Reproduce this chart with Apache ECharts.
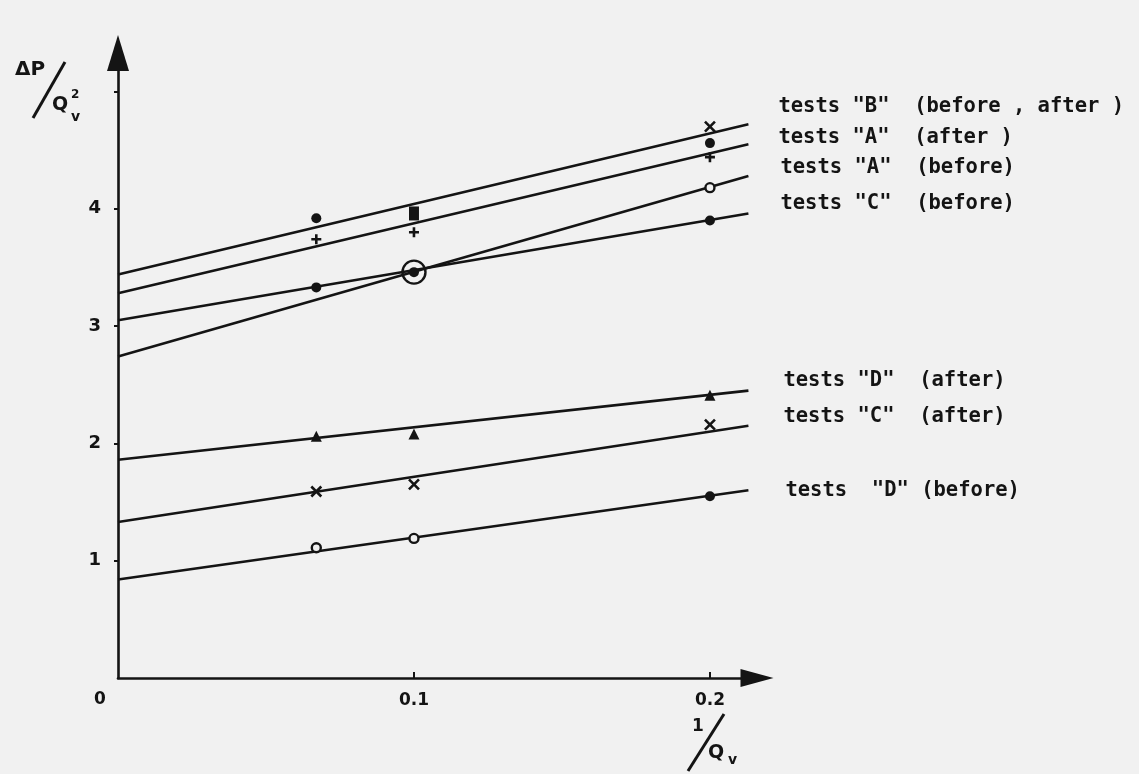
<!DOCTYPE html>
<html>
<head>
<meta charset="utf-8">
<script src="https://cdn.jsdelivr.net/npm/echarts@6/dist/echarts.min.js"></script>
<style>
html,body{margin:0;padding:0;background:#f1f1f1;}
#chart{width:1139px;height:774px;}
</style>
</head>
<body>
<div id="chart"></div>
<script>
// ---- data ----
const lineX = [0, 0.213];
const lineBbeforeAfter = [3.44, 4.72];
const lineAafter = [3.28, 4.55];
const lineCbefore = [3.05, 3.96];
const lineAbefore = [2.74, 4.28];
const lineDafter = [1.86, 2.45];
const lineCafter = [1.33, 2.15];
const lineDbefore = [0.84, 1.60];

const lineNames = [
  'tests "B"  (before , after )',
  'tests "A"  (after )',
  'tests "C"  (before)',
  'tests "A"  (before)',
  'tests "D"  (after)',
  'tests "C"  (after)',
  'tests  "D" (before)'
];

const filledDots = [[0.067, 3.92], [0.2, 4.56], [0.2, 3.90], [0.2, 1.55], [0.067, 3.33], [0.1, 3.46]];
const plusMarks = [[0.067, 3.74], [0.1, 3.80], [0.2, 4.44]];
const crossMarks = [[0.2, 4.70], [0.067, 1.59], [0.1, 1.65], [0.2, 2.16]];
const squareMarks = [[0.1, 3.96]];
const triangleMarks = [[0.067, 2.06], [0.1, 2.08], [0.2, 2.41]];
const openCircles = [[0.067, 1.11], [0.1, 1.19], [0.2, 4.18]];
const ringMarks = [[0.1, 3.46]];

const xTickValues = [0.1, 0.2];
const xTickLabels = ['0.1', '0.2'];
const yTickValues = [1, 2, 3, 4, 5];
const yLabelValues = [1, 2, 3, 4];

// ---- chart ----
const INK = '#141414';
const chart = echarts.init(document.getElementById('chart'), null, {renderer: 'canvas'});

function pair(arr) { return lineX.map((x, i) => [x, arr[i]]); }
const lineSets = [lineBbeforeAfter, lineAafter, lineCbefore, lineAbefore, lineDafter, lineCafter, lineDbefore];
const labelOffsets = [[30, -18], [30, -7], [32, -10], [32, -8], [35, -10], [35, -9], [37, 0]];

const labelFont = {
  fontFamily: 'DejaVu Sans Mono', fontWeight: 'bold', fontSize: 20.5, color: INK
};

const lineSeries = lineSets.map((arr, i) => ({
  type: 'line',
  name: lineNames[i],
  data: pair(arr),
  symbol: 'none',
  lineStyle: {color: INK, width: 2.6},
  silent: true,
  z: 2,
  endLabel: Object.assign({
    show: true,
    formatter: lineNames[i],
    distance: 0,
    offset: labelOffsets[i],
    align: 'left'
  }, labelFont)
}));

const scatterBase = {type: 'scatter', silent: true, z: 3};

const option = {
  backgroundColor: '#f1f1f1',
  animation: false,
  grid: {left: 118, top: 53, right: 382, bottom: 96, containLabel: false},
  xAxis: {
    type: 'value',
    min: 0,
    max: 0.2159,
    splitLine: {show: false},
    axisLine: {
      show: true, onZero: true,
      lineStyle: {color: INK, width: 2.6},
      symbol: ['none', 'triangle'],
      symbolSize: [18, 33]
    },
    axisTick: {show: true, inside: true, length: 6, lineStyle: {color: INK, width: 2}, customValues: xTickValues},
    axisLabel: {
      show: true, margin: 14,
      customValues: xTickValues,
      formatter: v => xTickLabels[xTickValues.indexOf(Math.round(v * 10) / 10)] || '',
      fontFamily: 'DejaVu Sans', fontWeight: 'bold', fontSize: 17, color: INK
    }
  },
  yAxis: {
    type: 'value',
    min: 0,
    max: 5.328,
    splitLine: {show: false},
    axisLine: {
      show: true, onZero: true,
      lineStyle: {color: INK, width: 2.6},
      symbol: ['none', 'triangle'],
      symbolSize: [22, 36]
    },
    axisTick: {show: true, inside: false, length: 4, lineStyle: {color: INK, width: 2}, customValues: yTickValues},
    axisLabel: {
      show: true, margin: 17,
      customValues: yLabelValues,
      padding: [0, 0, 18, 0],
      fontFamily: 'DejaVu Sans', fontWeight: 'bold', fontSize: 18, color: INK
    }
  },
  series: lineSeries.concat([
    Object.assign({}, scatterBase, {
      data: filledDots, symbol: 'circle', symbolSize: 10,
      itemStyle: {color: INK, opacity: 1}
    }),
    Object.assign({}, scatterBase, {
      data: plusMarks, symbol: 'path://M5,0L5,10M0,5L10,5', symbolSize: 10,
      itemStyle: {color: 'none', borderColor: INK, borderWidth: 2.6, opacity: 1}
    }),
    Object.assign({}, scatterBase, {
      data: crossMarks, symbol: 'path://M0,0L10,10M10,0L0,10', symbolSize: 10,
      itemStyle: {color: 'none', borderColor: INK, borderWidth: 2.6, opacity: 1}
    }),
    Object.assign({}, scatterBase, {
      data: squareMarks, symbol: 'rect', symbolSize: [10, 14],
      itemStyle: {color: INK, opacity: 1}
    }),
    Object.assign({}, scatterBase, {
      data: triangleMarks, symbol: 'triangle', symbolSize: 11,
      itemStyle: {color: INK, opacity: 1}
    }),
    Object.assign({}, scatterBase, {
      data: openCircles, symbol: 'circle', symbolSize: 9,
      itemStyle: {color: '#f1f1f1', borderColor: INK, borderWidth: 2.4, opacity: 1}
    }),
    Object.assign({}, scatterBase, {
      data: ringMarks, symbol: 'circle', symbolSize: 23,
      itemStyle: {color: 'transparent', borderColor: INK, borderWidth: 2.4, opacity: 1}
    })
  ]),
  graphic: [
    // y-axis title: ΔP / Qv²
    {type: 'text', left: 15, top: 60, style: {text: 'ΔP', font: 'bold 20px "DejaVu Sans"', fill: INK}},
    {type: 'line', shape: {x1: 33, y1: 118, x2: 65, y2: 62}, style: {stroke: INK, lineWidth: 3}},
    {type: 'text', left: 52, top: 96, style: {text: 'Q', font: 'bold 19px "DejaVu Sans"', fill: INK}},
    {type: 'text', left: 71, top: 89, style: {text: '2', font: 'bold 12px "DejaVu Sans"', fill: INK}},
    {type: 'text', left: 71, top: 110, style: {text: 'v', font: 'bold 14px "DejaVu Sans"', fill: INK}},
    // origin label
    {type: 'text', left: 94, top: 691, style: {text: '0', font: 'bold 17px "DejaVu Sans"', fill: INK}},
    // x-axis title: 1 / Qv
    {type: 'text', left: 692, top: 718, style: {text: '1', font: 'bold 17px "DejaVu Sans"', fill: INK}},
    {type: 'line', shape: {x1: 688, y1: 771, x2: 724, y2: 714}, style: {stroke: INK, lineWidth: 3}},
    {type: 'text', left: 708, top: 744, style: {text: 'Q', font: 'bold 19px "DejaVu Sans"', fill: INK}},
    {type: 'text', left: 728, top: 753, style: {text: 'v', font: 'bold 14px "DejaVu Sans"', fill: INK}}
  ]
};

chart.setOption(option);
</script>
</body>
</html>
